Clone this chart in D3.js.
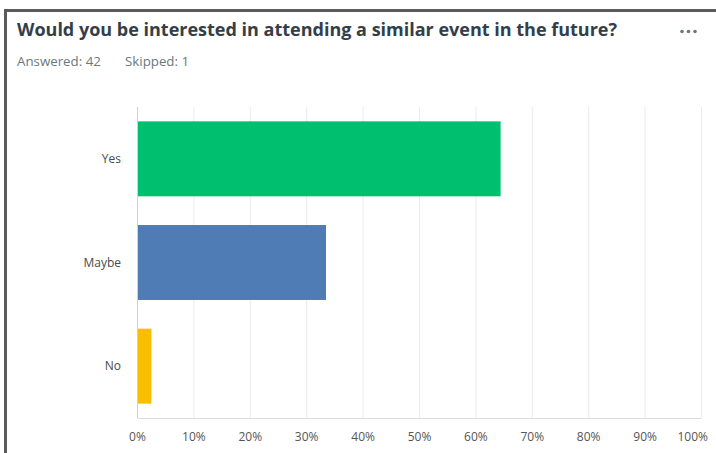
<!DOCTYPE html>
<html><head><meta charset="utf-8">
<script src="https://cdn.jsdelivr.net/npm/d3@7"></script>
<style>body{margin:0;background:#fff;}svg{display:block;}</style>
</head><body>
<svg id="c" width="716" height="453"></svg>
<script>
const title = "Would you be interested in attending a similar event in the future?";
const answered = 42;
const skipped = 1;
const categories = ["Yes", "Maybe", "No"];
const values = [64.29, 33.33, 2.38];
const colors = ["#00bf6f", "#507cb6", "#f9be00"];
const tickValues = [0,10,20,30,40,50,60,70,80,90,100];

const svg = d3.select("#c");
// frame
svg.append("rect").attr("x",4).attr("y",9).attr("width",716).attr("height",3).attr("fill","#5b5b5b");
svg.append("rect").attr("x",4).attr("y",9).attr("width",3).attr("height",453).attr("fill","#5b5b5b");

svg.append("text").attr("x",17).attr("y",36).text(title)
  .attr("font-family","Open Sans, sans-serif").attr("font-weight","bold").attr("font-size",18).attr("fill","#333e48");
svg.append("text").attr("x",17).attr("y",66).text("Answered: " + answered)
  .attr("font-family","Open Sans, sans-serif").attr("font-size",13.3).attr("fill","#6b787f");
svg.append("text").attr("x",125).attr("y",66).text("Skipped: " + skipped)
  .attr("font-family","Open Sans, sans-serif").attr("font-size",13.3).attr("fill","#6b787f");
[682,688.5,695].forEach(cx=>svg.append("circle").attr("cx",cx).attr("cy",31.5).attr("r",1.8).attr("fill","#6b787f"));

const x = d3.scaleLinear().domain([0,100]).range([137.5,701.5]);
const y = d3.scaleBand().domain(categories).range([107,418]).paddingInner(0.277).paddingOuter(0.1385);

const g = svg.append("g");
g.selectAll("line.grid").data(tickValues).join("line").attr("class","grid")
  .attr("x1",d=>x(d)).attr("x2",d=>x(d)).attr("y1",107).attr("y2",418)
  .attr("stroke",d=>d===0?"#d0d0d0":"#ebebeb").attr("stroke-width",1);
g.append("line").attr("x1",x(0)).attr("x2",x(100)).attr("y1",418.5).attr("y2",418.5).attr("stroke","#dcdcdc");

g.selectAll("rect.bar").data(categories).join("rect").attr("class","bar")
  .attr("x",x(0)+0.5).attr("y",d=>y(d))
  .attr("width",(d,i)=>x(values[i])-x(0)).attr("height",y.bandwidth())
  .attr("fill",(d,i)=>colors[i]);

g.selectAll("text.cat").data(categories).join("text").attr("class","cat")
  .attr("x",121).attr("y",d=>y(d)+y.bandwidth()/2).attr("dy","0.35em")
  .attr("text-anchor","end").text(d=>d)
  .attr("font-family","Open Sans, sans-serif").attr("font-size",12).attr("fill","#4a4a4a");

g.selectAll("text.tick").data(tickValues).join("text").attr("class","tick")
  .attr("x",d=>d===100?708:x(d)).attr("y",441).attr("text-anchor",d=>d===100?"end":"middle").text(d=>d+"%")
  .attr("font-family","Open Sans, sans-serif").attr("font-size",12).attr("fill","#555");
</script>
</body></html>
